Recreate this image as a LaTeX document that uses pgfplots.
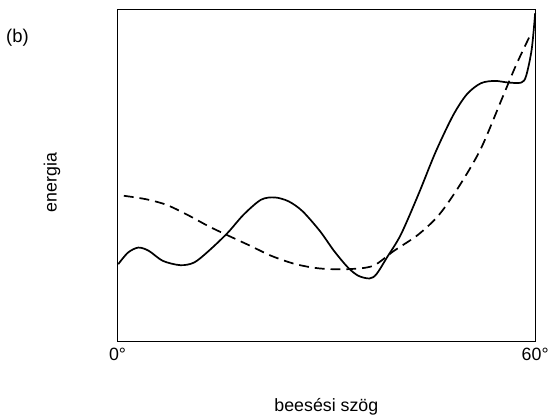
\documentclass[border=0pt]{standalone}
\usepackage{pgfplots}
\pgfplotsset{compat=1.18}
\usepackage{fontspec}
\setmainfont{Liberation Sans}
\begin{document}
\begin{tikzpicture}[x=0.75pt,y=0.75pt]
% page frame: 553 x 414 px, axis box at px 119..542 (x), 10..346 (y from top)
\path (-119,-68) rectangle (434,346);
\begin{axis}[
    at={(0,0)}, anchor=south west,
    scale only axis,
    width=317pt, height=252pt,
    xmin=0, xmax=60, ymin=0, ymax=100,
    axis line style={line width=0.9pt},
    xtick={0,60},
    xticklabels={0°,60°},
    ytick=\empty,
    major tick length=0pt,
    xticklabel style={font=\fontsize{13.5}{15}\selectfont, yshift=-1pt},
    xlabel={beesési szög},
    xlabel style={font=\fontsize{13.5}{15}\selectfont, yshift=-22pt},
    ylabel={energia},
    ylabel style={font=\fontsize{13.5}{15}\selectfont, yshift=40pt, xshift=-5pt},
    clip=false,
]
% solid curve
\addplot[black, line width=1.3pt, smooth, tension=0.5] coordinates {
    (0.1,23.4) (1.5,26.9) (3.0,28.4) (4.5,27.4) (6.5,24.4) (9.0,23.1)
    (11.0,23.9) (13.1,27.4) (15.8,32.8) (18.1,38.3) (20.6,42.8) (22.6,43.5)
    (24.6,42.3) (26.6,39.3) (29.1,33.3) (31.1,27.4) (33.1,22.4) (34.6,19.9)
    (36.2,19.1) (37.2,20.4) (38.7,25.4) (40.7,32.3) (43.2,44.3) (45.7,57.2)
    (48.2,68.2) (50.2,74.6) (52.2,77.9) (54.2,78.6) (56.2,78.1) (58.0,78.1)
    (58.7,80.1) (59.5,88.1) (60.0,99.0)
};
% dashed curve
\addplot[black, line width=1.3pt, dash pattern=on 7.5pt off 4.5pt, smooth, tension=0.5] coordinates {
    (0.9,44.0) (4.0,43.0) (7.0,41.3) (10.0,38.3) (13.1,34.8) (15.8,32.1)
    (19.1,28.9) (22.1,25.9) (25.6,23.4) (29.1,22.1) (33.1,21.9) (36.7,22.9)
    (39.7,27.4) (43.2,32.3) (46.2,38.3) (49.2,47.3) (52.2,58.2) (55.2,73.1)
    (57.2,83.1) (59.2,92.0)
};
\end{axis}
\node[anchor=west, inner sep=0pt, font=\fontsize{14}{16}\selectfont] at (-113,308) {(b)};
\end{tikzpicture}
\end{document}
